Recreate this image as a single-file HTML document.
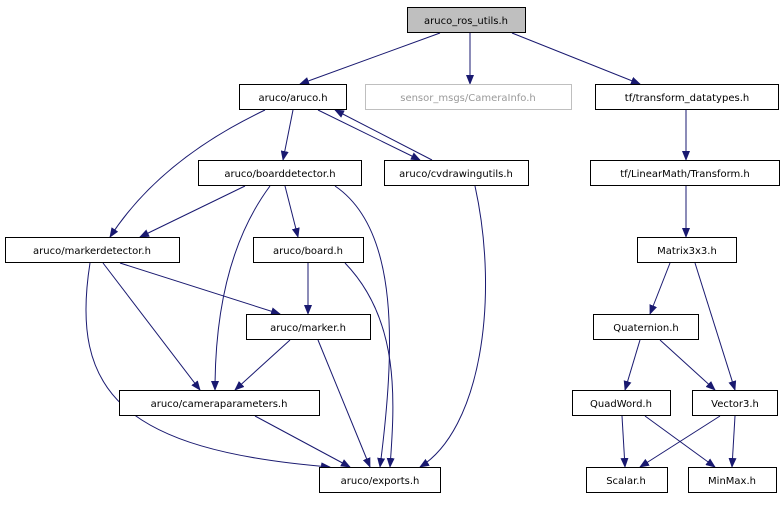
<!DOCTYPE html>
<html><head><style>
html,body{margin:0;padding:0;background:#fff;}
svg text{font-family:"DejaVu Sans","Liberation Sans",sans-serif;font-size:10px;text-anchor:middle;}
</style></head><body>
<svg width="784" height="504" viewBox="0 0 784 504" xmlns="http://www.w3.org/2000/svg">
<defs><marker id="a" markerWidth="10" markerHeight="8" refX="9" refY="4" orient="auto" markerUnits="userSpaceOnUse"><path d="M0,0 L10,4 L0,8 z" fill="#191970"/></marker></defs>
<g fill="none" stroke="#191970" stroke-width="1" marker-end="url(#a)">
<path d="M440,33 L300,84"/>
<path d="M470,33 L470,84"/>
<path d="M512,33 L640,84"/>
<path d="M265,110 Q160,160 110,237"/>
<path d="M293,110 L283,160"/>
<path d="M318,110 L420,160"/>
<path d="M432,160 L335,110"/>
<path d="M245,186 L140,237"/>
<path d="M270,186 Q215,260 215,390"/>
<path d="M285,186 L298,237"/>
<path d="M335,186 C400,230 395,350 380,467"/>
<path d="M475,186 C500,300 480,430 420,467"/>
<path d="M686,110 L686,160"/>
<path d="M686,186 L686,237"/>
<path d="M120,263 L280,314"/>
<path d="M103,263 L200,390"/>
<path d="M90,263 C70,390 120,450 330,467"/>
<path d="M308,263 L308,314"/>
<path d="M345,263 C400,320 395,400 390,467"/>
<path d="M290,340 L235,390"/>
<path d="M318,340 L370,467"/>
<path d="M255,416 L350,467"/>
<path d="M670,263 L650,314"/>
<path d="M695,263 L735,390"/>
<path d="M640,340 L625,390"/>
<path d="M660,340 L715,390"/>
<path d="M622,416 L625,467"/>
<path d="M645,416 L715,467"/>
<path d="M720,416 L640,467"/>
<path d="M735,416 L732,467"/>
</g>
<g stroke="#000" stroke-width="1" fill="#fff">
<rect x="407.5" y="7.5" width="118" height="25" fill="#bfbfbf"/>
<rect x="239.5" y="84.5" width="107" height="25"/>
<rect x="365.5" y="84.5" width="206" height="25" stroke="#bfbfbf"/>
<rect x="595.5" y="84.5" width="183" height="25"/>
<rect x="198.5" y="160.5" width="163" height="25"/>
<rect x="384.5" y="160.5" width="144" height="25"/>
<rect x="590.5" y="160.5" width="189" height="25"/>
<rect x="5.5" y="237.5" width="174" height="25"/>
<rect x="253.5" y="237.5" width="110" height="25"/>
<rect x="637.5" y="237.5" width="99" height="25"/>
<rect x="246.5" y="314.5" width="124" height="25"/>
<rect x="593.5" y="314.5" width="105" height="25"/>
<rect x="119.5" y="390.5" width="200" height="25"/>
<rect x="572.5" y="390.5" width="98" height="25"/>
<rect x="692.5" y="390.5" width="85" height="25"/>
<rect x="319.5" y="467.5" width="121" height="25"/>
<rect x="586.5" y="467.5" width="81" height="25"/>
<rect x="688.5" y="467.5" width="88" height="25"/>
</g>
<g fill="#000">
<text x="466" y="24">aruco_ros_utils.h</text>
<text x="293" y="101">aruco/aruco.h</text>
<text x="468" y="101" fill="#9a9a9a">sensor_msgs/CameraInfo.h</text>
<text x="687" y="101">tf/transform_datatypes.h</text>
<text x="280" y="177">aruco/boarddetector.h</text>
<text x="456" y="177">aruco/cvdrawingutils.h</text>
<text x="685" y="177">tf/LinearMath/Transform.h</text>
<text x="92" y="254">aruco/markerdetector.h</text>
<text x="308" y="254">aruco/board.h</text>
<text x="687" y="254">Matrix3x3.h</text>
<text x="308" y="331">aruco/marker.h</text>
<text x="646" y="331">Quaternion.h</text>
<text x="219" y="407">aruco/cameraparameters.h</text>
<text x="621" y="407">QuadWord.h</text>
<text x="735" y="407">Vector3.h</text>
<text x="380" y="484">aruco/exports.h</text>
<text x="626" y="484">Scalar.h</text>
<text x="732" y="484">MinMax.h</text>
</g>
</svg>
</body></html>
